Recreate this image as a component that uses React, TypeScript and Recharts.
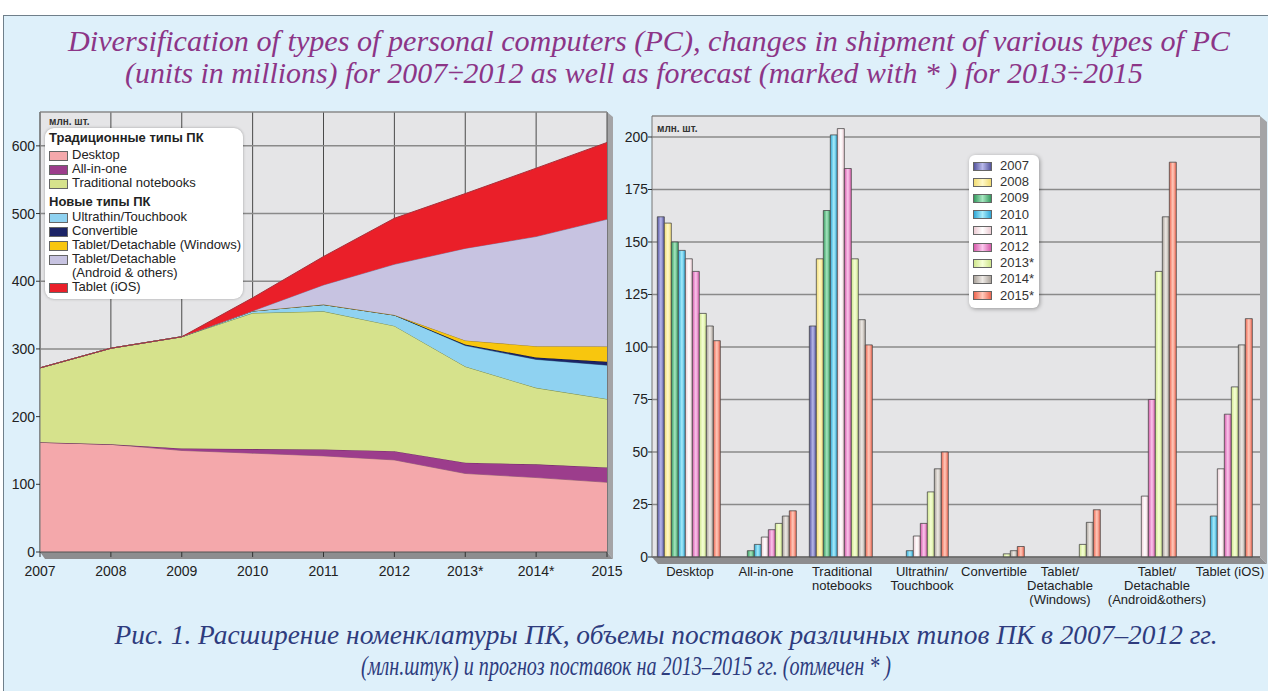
import React from 'react';
import { AreaChart, Area, BarChart, Bar, XAxis, YAxis, CartesianGrid, Legend } from 'recharts';

// years on the left (stacked) chart
const years = ['2007', '2008', '2009', '2010', '2011', '2012', '2013*', '2014*', '2015'];
// years in the right (bar) chart legend
const barYears = ['2007', '2008', '2009', '2010', '2011', '2012', '2013*', '2014*', '2015*'];

// shipments, mln units, 2007..2015
const desktop = [162, 159, 150, 146, 142, 136, 116, 110, 103];
const allInOne = [0, 0, 3, 6, 9.5, 13, 16, 19.5, 22];
const notebooks = [110, 142, 165, 201, 204, 185, 142, 113, 101];
const ultrathin = [0, 0, 0, 3, 10, 16, 31, 42, 50];
const convertible = [0, 0, 0, 0, 0, 0, 1.5, 3, 5];
const tabletWin = [0, 0, 0, 0, 0, 0, 6, 16.5, 22.5];
const tabletAndroid = [0, 0, 0, 0, 29, 75, 136, 162, 188];
const tabletIos = [0, 0, 0, 19.5, 42, 68, 81, 101, 113.5];

const typeNames = [
  'Desktop',
  'All-in-one',
  'Traditional notebooks',
  'Ultrathin/Touchbook',
  'Convertible',
  'Tablet/Detachable (Windows)',
  'Tablet/Detachable\n(Android & others)',
  'Tablet (iOS)',
];

const barCategories = [
  'Desktop',
  'All-in-one',
  'Traditional notebooks',
  'Ultrathin/ Touchbook',
  'Convertible',
  'Tablet/ Detachable (Windows)',
  'Tablet/ Detachable (Android&others)',
  'Tablet (iOS)',
];
const barTickLines = [
  ['Desktop'],
  ['All-in-one'],
  ['Traditional', 'notebooks'],
  ['Ultrathin/', 'Touchbook'],
  ['Convertible'],
  ['Tablet/', 'Detachable', '(Windows)'],
  ['Tablet/', 'Detachable', '(Android&others)'],
  ['Tablet (iOS)'],
];
// label nudges, as placed in the original layout
const barTickShift = [0, 0, 0, 4, 0, -10, 11, 8];

const leftTicks = [0, 100, 200, 300, 400, 500, 600];
const rightTicks = [0, 25, 50, 75, 100, 125, 150, 175, 200];

const typeValues = [desktop, allInOne, notebooks, ultrathin, convertible, tabletWin, tabletAndroid, tabletIos];
const typeKeys = ['desktop', 'allInOne', 'notebooks', 'ultrathin', 'convertible', 'tabletWin', 'tabletAndroid', 'tabletIos'];

const areaData = years.map((year, j) => {
  const row: any = { year };
  typeKeys.forEach((k, i) => (row[k] = typeValues[i][j]));
  return row;
});

const barData = barCategories.map((name, i) => {
  const row: any = { name };
  barYears.forEach((_, j) => (row['y' + j] = typeValues[i][j] || null));
  return row;
});

// styles
const areaFill = ['#f4a8ab', '#9c3d8c', '#d6e28c', '#8fd2f1', '#1c2466', '#f8c60e', '#c7c3e1', '#ea1f29'];
const areaStroke = ['#a8767a', '#6a2a60', '#7c8e4a', '#4a8aa8', '#141838', '#a08020', '#8a86a8', '#a8303a'];
const barBase = ['#55559e', '#f2dc72', '#359a5e', '#2ea6d6', '#eccbd3', '#d65aaa', '#cfe68c', '#aaa29a', '#ee6650'];
const barLight = ['#b8b8ea', '#fff8c8', '#a6e6c0', '#a8ecfa', '#ffffff', '#fac6ec', '#f6ffd6', '#eeeae6', '#ffcabc'];

const sans = "'Liberation Sans', Arial, sans-serif";
const serif = "'Liberation Serif', serif";

const AreaLegend = () => {
  const item = (i: number) => (
    <div key={i} style={{ display: 'flex', alignItems: 'flex-start' }}>
      <span
        style={{
          display: 'inline-block',
          width: 17,
          height: 8,
          marginTop: 3,
          marginRight: 4,
          background: areaFill[i],
          border: '1px solid #666',
          flex: 'none',
        }}
      />
      <span style={{ whiteSpace: 'pre' }}>{typeNames[i]}</span>
    </div>
  );
  return (
    <div
      style={{
        width: 186,
        background: '#fff',
        borderRadius: 9,
        boxShadow: '0 0 3px rgba(0,0,0,0.3)',
        padding: '3px 8px 5px 4px',
        fontFamily: sans,
        fontSize: 13,
        lineHeight: '14px',
        color: '#222',
        textAlign: 'left',
      }}
    >
      <div style={{ fontWeight: 'bold', marginBottom: 3 }}>Традиционные типы ПК</div>
      {[0, 1, 2].map(item)}
      <div style={{ fontWeight: 'bold', marginTop: 5, marginBottom: 1 }}>Новые типы ПК</div>
      {[3, 4, 5, 6, 7].map(item)}
    </div>
  );
};

const BarLegend = () => (
  <div
    style={{
      width: 62,
      background: '#fff',
      borderRadius: 6,
      boxShadow: '1px 1px 4px rgba(0,0,0,0.35)',
      padding: '3px 4px 4px 4px',
      fontFamily: sans,
      fontSize: 13,
      lineHeight: '16.2px',
      color: '#333',
      textAlign: 'left',
    }}
  >
    {barYears.map((y, j) => (
      <div key={y} style={{ display: 'flex', alignItems: 'center' }}>
        <span
          style={{
            display: 'inline-block',
            width: 17,
            height: 7,
            marginRight: 8,
            border: '1px solid #666',
            background: `linear-gradient(to right, ${barBase[j]}, ${barLight[j]} 50%, ${barBase[j]})`,
          }}
        />
        {y}
      </div>
    ))}
  </div>
);

const BarTick = (props: any) => {
  const { x, y, payload } = props;
  const idx = barCategories.indexOf(payload.value);
  const lines = barTickLines[idx] || [payload.value];
  const cx = x + (barTickShift[idx] || 0);
  return (
    <text x={cx} y={y} textAnchor="middle" fontSize={13} fill="#222" fontFamily={sans}>
      {lines.map((l, k) => (
        <tspan key={k} x={cx} dy={k === 0 ? 13 : 14}>
          {l}
        </tspan>
      ))}
    </text>
  );
};

export default function App() {
  return (
    <div style={{ position: 'absolute', left: 0, top: 0, width: 1268, height: 691, background: '#fff', overflow: 'hidden' }}>
      <div
        style={{
          position: 'absolute',
          left: 3,
          top: 15,
          width: 1270,
          height: 680,
          background: '#def0fa',
          borderTop: '1px solid #6f7f8a',
          borderLeft: '1px solid #6f7f8a',
        }}
      />
      {/* 3d slabs under the plots, titles */}
      <svg style={{ position: 'absolute', left: 0, top: 0 }} width={1268} height={691}>
        <polygon points="40,552 607,552 613,559 45,559" fill="#8d8d8f" />
        <polygon points="607,112 613,117 613,559 607,552" fill="#a4a4a6" />
        <polygon points="652,557 1260,557 1267,564 658,564" fill="#8d8d8f" />
        <polygon points="1260,116 1267,122 1267,564 1260,557" fill="#a4a4a6" />
        <g fontFamily={serif} fontStyle="italic" fill="#8c3587">
          <text x={649} y={51} textAnchor="middle" textLength={1162} lengthAdjust="spacingAndGlyphs" fontSize={29}>
            Diversification of types of personal computers (PC), changes in shipment of various types of PC
          </text>
          <text x={634} y={83} textAnchor="middle" textLength={1018} lengthAdjust="spacingAndGlyphs" fontSize={29}>
            (units in millions) for 2007÷2012 as well as forecast (marked with * ) for 2013÷2015
          </text>
        </g>
        <g fontFamily={serif} fontStyle="italic" fill="#2e3c7e">
          <text x={666} y={644} textAnchor="middle" textLength={1103} lengthAdjust="spacingAndGlyphs" fontSize={27}>
            Рис. 1. Расширение номенклатуры ПК, объемы поставок различных типов ПК в 2007–2012 гг.
          </text>
          <text x={626} y={675} textAnchor="middle" textLength={530} lengthAdjust="spacingAndGlyphs" fontSize={27}>
            (млн.штук) и прогноз поставок на 2013–2015 гг. (отмечен * )
          </text>
        </g>
      </svg>

      <div style={{ position: 'absolute', left: 0, top: 100, width: 640, height: 500 }}>
        <AreaChart width={640} height={500} data={areaData} margin={{ top: 12, right: 33, bottom: 8, left: 6 }}>
          <CartesianGrid horizontal={false} vertical stroke="#4a4a4a" fill="#e5e5e7" />
          <CartesianGrid horizontal vertical={false} stroke="#8a8a8a" strokeWidth={1.5} />
          <XAxis
            dataKey="year"
            interval={0}
            height={40}
            tick={{ fontSize: 14, fill: '#222', fontFamily: sans }}
            tickSize={5}
            tickMargin={9}
            axisLine={{ stroke: '#555' }}
            tickLine={{ stroke: '#333' }}
          />
          <YAxis
            width={34}
            domain={[0, 650]}
            ticks={leftTicks}
            tick={{ fontSize: 14, fill: '#222', fontFamily: sans }}
            tickSize={4}
            tickMargin={1}
            axisLine={{ stroke: '#777' }}
            tickLine={{ stroke: '#333' }}
          />
          {typeKeys.map((k, i) => (
            <Area
              key={k}
              type="linear"
              dataKey={k}
              name={typeNames[i]}
              stackId="pc"
              fill={areaFill[i]}
              fillOpacity={1}
              stroke={areaStroke[i]}
              strokeWidth={1}
              isAnimationActive={false}
            />
          ))}
          <Legend
            layout="vertical"
            align="center"
            verticalAlign="middle"
            content={AreaLegend}
            wrapperStyle={{ left: 45, top: 28, width: 'auto' }}
          />
        </AreaChart>
      </div>

      <div style={{ position: 'absolute', left: 620, top: 100, width: 648, height: 520 }}>
        <BarChart
          width={648}
          height={520}
          data={barData}
          barCategoryGap="7%"
          barGap={0}
          margin={{ top: 16, right: 8, bottom: 3, left: 4 }}
        >
          <defs>
            {barBase.map((c, j) => (
              <linearGradient key={j} id={'bg' + j} x1="0" y1="0" x2="1" y2="0">
                <stop offset="0%" stopColor={c} />
                <stop offset="50%" stopColor={barLight[j]} />
                <stop offset="100%" stopColor={c} />
              </linearGradient>
            ))}
          </defs>
          <CartesianGrid vertical={false} stroke="#8a8a8a" strokeWidth={1.5} fill="#e5e5e7" />
          <XAxis
            dataKey="name"
            interval={0}
            height={60}
            tick={<BarTick />}
            tickLine={false}
            tickSize={4}
            tickMargin={2}
            axisLine={{ stroke: '#555' }}
          />
          <YAxis
            width={28}
            domain={[0, 210]}
            ticks={rightTicks}
            tick={{ fontSize: 14, fill: '#222', fontFamily: sans }}
            tickSize={4}
            tickMargin={0}
            axisLine={{ stroke: '#777' }}
            tickLine={{ stroke: '#333' }}
          />
          {barYears.map((y, j) => (
            <Bar
              key={y}
              dataKey={'y' + j}
              name={y}
              fill={`url(#bg${j})`}
              stroke="#4a4a4a"
              strokeWidth={0.8}
              isAnimationActive={false}
            />
          ))}
          <Legend
            layout="vertical"
            align="center"
            verticalAlign="middle"
            content={BarLegend}
            wrapperStyle={{ left: 349, top: 55, width: 'auto' }}
          />
        </BarChart>
      </div>

      <svg style={{ position: 'absolute', left: 0, top: 0, pointerEvents: 'none' }} width={1268} height={691}>
        <text x={49} y={125} fontFamily={sans} fontSize={10} fontWeight="bold" fill="#333">млн. шт.</text>
        <text x={657} y={132} fontFamily={sans} fontSize={10} fontWeight="bold" fill="#333">млн. шт.</text>
      </svg>
    </div>
  );
}
